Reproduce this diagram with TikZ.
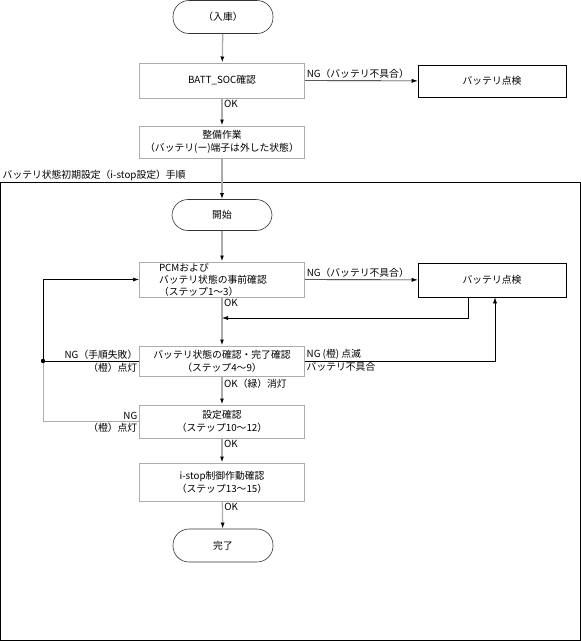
\documentclass[tikz,border=0pt]{standalone}
\usepackage{fontspec}
\setmainfont{Noto Sans CJK JP}
\usetikzlibrary{arrows.meta}

\begin{document}
\begin{tikzpicture}[x=1pt, y=-1pt, >={Latex[length=6pt,width=4pt,color=black]},
    font=\fontsize{9.8}{13}\selectfont,
    box/.style={draw=gray!65, line width=1pt, minimum width=165pt, align=center, inner sep=0pt},
    chkbox/.style={draw, line width=0.6pt, minimum width=148pt, inner sep=0pt},
    term/.style={draw=black!80, line width=0.6pt, rounded corners=16pt, minimum width=100pt, inner sep=0pt},
    flow/.style={draw=gray!65, line width=1.3pt},
    ng/.style={draw=black, line width=0.6pt},
    lbl/.style={inner sep=1.5pt}]
    \useasboundingbox (0,0) rectangle (581,641);

    % 枠
    \draw[line width=0.8pt] (0.5,182.5) rectangle (580.5,640.5);
    \node[lbl, anchor=south west] (title) at (1,182) {バッテリ状態初期設定（i-stop設定）手順};

    % ノード
    \node[term, minimum height=33pt] (nyuko) at (223,17) {（入庫）};
    \node[box, minimum height=35pt] (soc) at (222,80.5) {BATT\_SOC確認};
    \node[chkbox, minimum height=32pt] (chkA) at (492,81) {バッテリ点検};
    \node[box, minimum height=32pt] (seibi) at (222,142) {整備作業\\（バッテリ(ー)端子は外した状態）};
    \node[term, minimum height=31pt] (kaishi) at (222,215) {開始};
    \node[box, minimum height=35pt, text width=126pt, align=left,
          font=\fontsize{9.8}{12}\selectfont] (pcm) at (222,279.5) {PCMおよび\\バッテリ状態の事前確認\\（ステップ1～3）};
    \node[chkbox, minimum height=34pt] (chkB) at (492,280) {バッテリ点検};
    \node[box, minimum height=30pt] (kakunin) at (222,361) {バッテリ状態の確認・完了確認\\（ステップ4～9）};
    \node[box, minimum height=33pt] (settei) at (222,421.5) {設定確認\\（ステップ10～12）};
    \node[box, minimum height=38pt] (istop) at (222,482) {i-stop制御作動確認\\（ステップ13～15）};
    \node[term, minimum height=33pt] (kanryo) at (223,545.5) {完了};
    \coordinate (ret) at (222,318);
    \coordinate (dot) at (43,361);

    % 主な流れ
    \draw[flow, ->] (nyuko) -- (soc);
    \draw[flow, ->] (soc) -- node[lbl, pos=0, anchor=north west] {OK} (seibi);
    \draw[flow, ->] (seibi) -- (kaishi);
    \draw[flow, ->] (kaishi) -- (pcm);
    \draw[flow, ->] (pcm) -- node[lbl, pos=0, anchor=north west] {OK} (kakunin);
    \draw[flow, ->] (kakunin) -- node[lbl, pos=0, anchor=north west] {OK（緑）消灯} (settei);
    \draw[flow, ->] (settei) -- node[lbl, pos=0, anchor=north west] {OK} (istop);
    \draw[flow, ->] (istop) -- node[lbl, pos=0, anchor=north west] {OK} (kanryo);

    % NG
    \draw[ng, ->] (soc) -- node[lbl, pos=0, anchor=south west] {NG（バッテリ不具合）} (chkA);
    \draw[ng, ->] (pcm) -- node[lbl, pos=0, anchor=south west] {NG（バッテリ不具合）} (chkB);
    \draw[ng, ->] ([xshift=-24pt]chkB.south) |- (ret);
    \draw[ng, ->] (kakunin.east) -| ([xshift=3pt]chkB.south);
    \node[lbl, anchor=south west] (ngA) at (kakunin.east) {NG (橙) 点滅};
    \node[lbl, anchor=north west] (ngB) at (kakunin.east) {バッテリ不具合};

    % 左のループ
    \draw[ng] (kakunin.west) -- (dot);
    \draw[flow, line width=1pt] (settei.west) -| (dot);
    \draw[ng, ->] (dot) |- (pcm.west);
    \fill (dot) circle (2.2pt);
    \node[lbl, anchor=south east] (ngC) at (kakunin.west) {NG（手順失敗）};
    \node[lbl, anchor=north east] (ngD) at (kakunin.west) {（橙）点灯};
    \node[lbl, anchor=south east] (ngE) at (settei.west) {NG};
    \node[lbl, anchor=north east] (ngF) at (settei.west) {（橙）点灯};
\end{tikzpicture}
\end{document}
